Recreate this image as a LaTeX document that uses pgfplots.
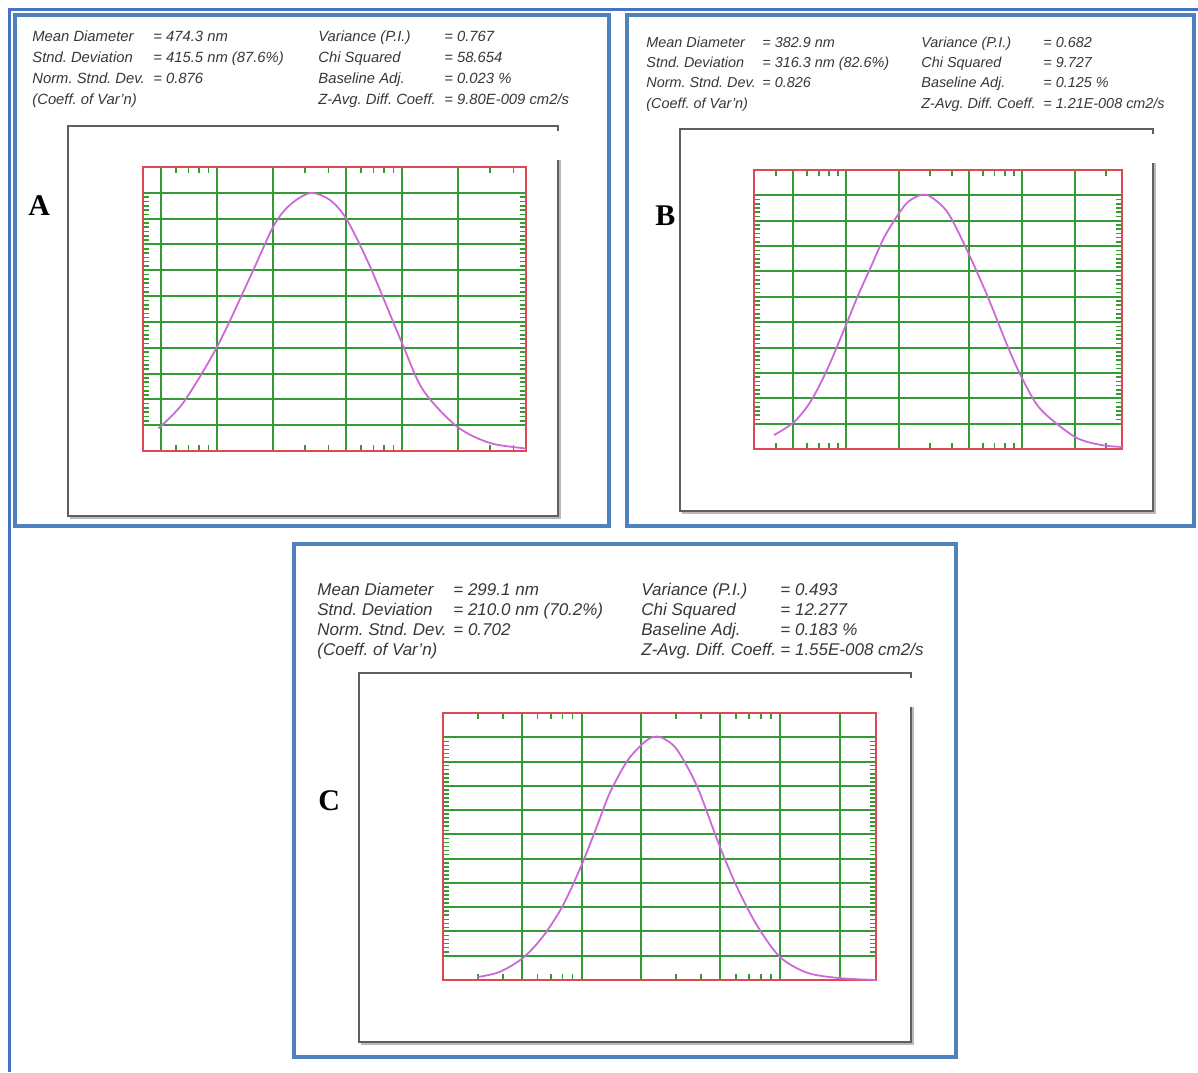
\documentclass[border=0pt]{standalone}
\usepackage{pgfplots}
\pgfplotsset{compat=1.18}
\usepackage{fontspec}
\setmainfont{Liberation Sans}
\newfontfamily\timesfont{Liberation Serif}
\definecolor{outerblue}{RGB}{68,114,196}
\definecolor{panelblue}{RGB}{79,129,189}
\definecolor{gridgreen}{RGB}{52,155,52}
\definecolor{framered}{RGB}{222,72,82}
\definecolor{curvepink}{RGB}{205,105,215}
\definecolor{boxgray}{RGB}{95,95,95}
\definecolor{shadowgray}{RGB}{185,185,185}
\definecolor{txtgray}{RGB}{55,55,55}
\pgfplotsset{
  dlsaxis/.style={
    anchor=south west, scale only axis, ymin=0, ymax=110,
    ytick={10,20,30,40,50,60,70,80,90,100}, xtick={5,10,20,50,100,200},
    xticklabels={}, yticklabels={},
    minor y tick num=5,
    grid=major, major grid style={gridgreen, line width=1pt},
    minor grid style={draw=none},
    axis line style={framered, line width=0.8pt},
    major tick length=0pt, minor tick length=3.2pt,
    tick style={gridgreen, line width=0.8pt},
    minor tick style={gridgreen, line width=0.8pt},
    tick align=inside, xtick pos=both, ytick pos=both,
  },
  dlscurve/.style={curvepink, line width=0.9pt, smooth, no markers},
}
\newcommand\curfont{}
\newcommand\itxt[3]{\node[anchor=base west, inner sep=0pt, text=txtgray, font=\curfont] at (#1,#2) {#3};}
\newcommand\grayframe[5]{% left top right bottom rightstart
  \draw[shadowgray, line width=1.2pt] (#1+1.5,#4+2) -- (#3+2,#4+2) -- (#3+2,#5);
  \draw[boxgray, line width=1pt] (#3,#2+5) -- (#3,#2) -- (#1,#2) -- (#1,#4) -- (#3,#4) -- (#3,#5);
}
\frenchspacing
\begin{document}
\frenchspacing
\begin{tikzpicture}
\begin{scope}[x=0.5pt,y=-0.5pt]
\path[use as bounding box] (0,0) rectangle (1198,1072);
% outer frame
\draw[outerblue, line width=1.5pt] (9,1072) -- (9,9) -- (1198,9);
% panel borders
\draw[panelblue, line width=2pt] (15,15) rectangle (609,526);
\draw[panelblue, line width=2pt] (627,15) rectangle (1194,526);
\draw[panelblue, line width=2pt] (294,544) rectangle (956,1057);
% gray frames
\grayframe{68}{126}{558}{516}{160}
\grayframe{680}{129}{1153}{511}{163}
\grayframe{359}{673}{911}{1042}{707}
% panel letters
\node[anchor=base west, inner sep=0pt, font=\timesfont\bfseries\fontsize{15}{15}\selectfont] at (28,215) {A};
\node[anchor=base west, inner sep=0pt, font=\timesfont\bfseries\fontsize{15}{15}\selectfont] at (655,225) {B};
\node[anchor=base west, inner sep=0pt, font=\timesfont\bfseries\fontsize{15}{15}\selectfont] at (318,810) {C};
% ---- texts A
\renewcommand\curfont{\itshape\fontsize{7.4}{8}\selectfont}
\itxt{32}{41.5}{Mean Diameter}
\itxt{32}{62.5}{Stnd. Deviation}
\itxt{32}{83.5}{Norm. Stnd. Dev.}
\itxt{32}{104.5}{(Coeff. of Var'n)}
\itxt{153}{41.5}{= 474.3 nm}
\itxt{153}{62.5}{= 415.5 nm (87.6\%)}
\itxt{153}{83.5}{= 0.876}
\itxt{318}{41.5}{Variance (P.I.)}
\itxt{318}{62.5}{Chi Squared}
\itxt{318}{83.5}{Baseline Adj.}
\itxt{318}{104.5}{Z-Avg. Diff. Coeff.}
\itxt{444}{41.5}{= 0.767}
\itxt{444}{62.5}{= 58.654}
\itxt{444}{83.5}{= 0.023 \%}
\itxt{444}{104.5}{= 9.80E-009 cm2/s}
% ---- texts B
\renewcommand\curfont{\itshape\fontsize{7.2}{8}\selectfont}
\itxt{646}{47}{Mean Diameter}
\itxt{646}{67}{Stnd. Deviation}
\itxt{646}{87.5}{Norm. Stnd. Dev.}
\itxt{646}{108.5}{(Coeff. of Var'n)}
\itxt{762}{47}{= 382.9 nm}
\itxt{762}{67}{= 316.3 nm (82.6\%)}
\itxt{762}{87.5}{= 0.826}
\itxt{921}{47}{Variance (P.I.)}
\itxt{921}{67}{Chi Squared}
\itxt{921}{87.5}{Baseline Adj.}
\itxt{921}{108.5}{Z-Avg. Diff. Coeff.}
\itxt{1043}{47}{= 0.682}
\itxt{1043}{67}{= 9.727}
\itxt{1043}{87.5}{= 0.125 \%}
\itxt{1043}{108.5}{= 1.21E-008 cm2/s}
% ---- texts C
\renewcommand\curfont{\itshape\fontsize{8.5}{9}\selectfont}
\itxt{317}{595.5}{Mean Diameter}
\itxt{317}{615}{Stnd. Deviation}
\itxt{317}{635}{Norm. Stnd. Dev.}
\itxt{317}{655}{(Coeff. of Var'n)}
\itxt{453}{595.5}{= 299.1 nm}
\itxt{453}{615}{= 210.0 nm (70.2\%)}
\itxt{453}{635}{= 0.702}
\itxt{641}{595.5}{Variance (P.I.)}
\itxt{641}{615}{Chi Squared}
\itxt{641}{635}{Baseline Adj.}
\itxt{641}{655}{Z-Avg. Diff. Coeff.}
\itxt{780}{595.5}{= 0.493}
\itxt{780}{615}{= 12.277}
\itxt{780}{635}{= 0.183 \%}
\itxt{780}{655}{= 1.55E-008 cm2/s}
\end{scope}
% ---- plot A
\begin{semilogxaxis}[dlsaxis, at={(71.5pt,-225.5pt)}, width=191.5pt, height=142pt,
  xmin=3.98, xmax=468, minor xtick={6,7,8,9,30,40,60,70,80,90,300,400}]
\addplot[dlscurve] coordinates {
(4.82,8.8) (6.55,18.6) (10,40.3) (15.1,67.4) (20.1,86.8) (24.5,95.0)
(31.8,99.9) (40.8,97.2) (50.4,89.5) (67.1,71.5) (100,41.8) (130,23.6)
(198,9.5) (299,3.1) (468,1.0)};
\end{semilogxaxis}
% ---- plot B
\begin{semilogxaxis}[dlsaxis, at={(377pt,-224.5pt)}, width=184pt, height=139.5pt,
  xmin=3.0, xmax=371, minor xtick={4,6,7,8,9,30,40,60,70,80,90,300}]
\addplot[dlscurve] coordinates {
(3.90,5.5) (5.06,10.6) (6.33,19.0) (7.90,32.0) (10,48.9) (11.7,60.5)
(13.9,72.0) (16.5,83.5) (19.75,92.3) (22.5,97.4) (26.7,100.2) (30.4,99.4)
(38.0,93.1) (49.3,77.7) (64.1,59.9) (83.3,40.2) (101,27.5) (128,15.6)
(200,4.8) (281,1.6) (371,0.8)};
\end{semilogxaxis}
% ---- plot C
\begin{semilogxaxis}[dlsaxis, at={(221.5pt,-490pt)}, width=216.5pt, height=133.5pt,
  xmin=2.0, xmax=305, minor xtick={3,4,6,7,8,9,30,40,60,70,80,90}]
\addplot[dlscurve] coordinates {
(2.98,1.2) (3.85,3.3) (5.04,9.0) (6.35,17.7) (8.02,30.5) (10,47.4)
(11.9,63.0) (13.85,77.0) (16.9,90.0) (20.1,97.0) (22.8,100.1) (25.6,99.7)
(30.2,95.0) (38.1,80.0) (49.2,56.0) (60.7,38.3) (76.6,22.5) (100,9.5)
(137,3.0) (199,0.8) (305,0)};
\end{semilogxaxis}
\end{tikzpicture}
\end{document}
